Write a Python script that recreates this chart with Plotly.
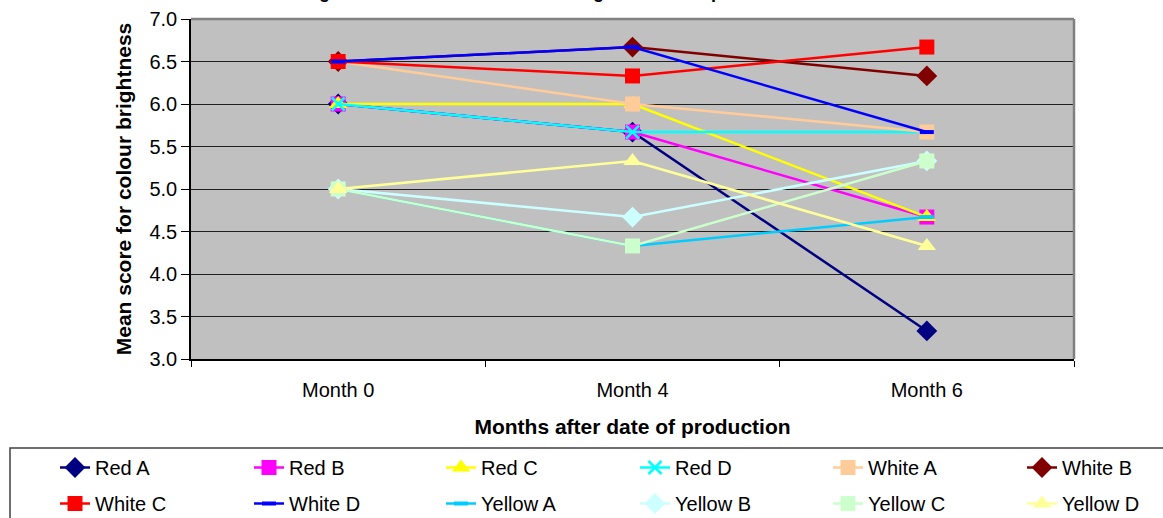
import plotly.graph_objects as go

# Storage months (categories on the x axis)
months = ["Month 0", "Month 4", "Month 6"]

# Mean colour-brightness scores per sample
red_a = [6.0, 5.67, 3.33]
red_b = [6.0, 5.67, 4.67]
red_c = [6.0, 6.0, 4.67]
red_d = [6.0, 5.67, 5.67]
white_a = [6.5, 6.0, 5.67]
white_b = [6.5, 6.67, 6.33]
white_c = [6.5, 6.33, 6.67]
white_d = [6.5, 6.67, 5.67]
yellow_a = [5.0, 4.33, 4.67]
yellow_b = [5.0, 4.67, 5.33]
yellow_c = [5.0, 4.33, 5.33]
yellow_d = [5.0, 5.33, 4.33]

y_ticks = [3.0, 3.5, 4.0, 4.5, 5.0, 5.5, 6.0, 6.5, 7.0]

series = [
    ("Red A", red_a, "#000080", "diamond"),
    ("Red B", red_b, "#FF00FF", "square"),
    ("Red C", red_c, "#FFFF00", "triangle-up"),
    ("Red D", red_d, "#00FFFF", "x-thin"),
    ("White A", white_a, "#FFCC99", "square"),
    ("White B", white_b, "#800000", "diamond"),
    ("White C", white_c, "#FF0000", "square"),
    ("White D", white_d, "#0000FF", "line-ew"),
    ("Yellow A", yellow_a, "#00CCFF", "line-ew"),
    ("Yellow B", yellow_b, "#CCFFFF", "diamond"),
    ("Yellow C", yellow_c, "#CCFFCC", "square"),
    ("Yellow D", yellow_d, "#FFFF99", "triangle-up"),
]

FONT = "Liberation Sans, Arial, sans-serif"
FS = 20
FS_TITLE = 21

# Plot-area geometry in pixels
W, H = 1163, 518
L, R, T, B = 191, 89, 19, 159
PW, PH = W - L - R, H - T - B

# Legend: six columns, two rows; each column is its own vertical legend
col_text_x = [96, 290, 482, 676, 869, 1063]
legend_top_px = 448

fig = go.Figure()
for i, (name, vals, color, sym) in enumerate(series):
    if sym == "x-thin":
        marker = dict(symbol=sym, size=13, color=color, line=dict(color=color, width=2.5))
    elif sym == "line-ew":
        marker = dict(symbol=sym, size=10, color=color, line=dict(color=color, width=4))
    elif sym in ("diamond", "triangle-up"):
        marker = dict(symbol=sym, size=16, color=color, line=dict(width=0))
    else:
        marker = dict(symbol=sym, size=15, color=color, line=dict(width=0))
    col = i % 6
    fig.add_trace(go.Scatter(
        x=months, y=vals, name=name, mode="lines+markers",
        line=dict(color=color, width=2.5), marker=marker,
        legend="legend" if col == 0 else f"legend{col + 1}",
        legendgroup=name,
    ))

legend_cfg = {}
for col, tx in enumerate(col_text_x):
    key = "legend" if col == 0 else f"legend{col + 1}"
    legend_cfg[key] = dict(
        orientation="v",
        x=(tx - 41 - L) / PW, xanchor="left",
        y=(T + PH - legend_top_px) / PH, yanchor="top",
        bgcolor="rgba(0,0,0,0)", borderwidth=0,
        font=dict(size=FS, family=FONT, color="black"),
        tracegroupgap=7, itemsizing="trace",
    )

fig.update_layout(
    width=W, height=H,
    margin=dict(l=L, r=R, t=T, b=B, autoexpand=False),
    paper_bgcolor="white",
    plot_bgcolor="#C0C0C0",
    font=dict(family=FONT, size=FS, color="black"),
    showlegend=True,
    **legend_cfg,
    xaxis=dict(
        type="category", range=[-0.5, 2.5],
        showline=True, linecolor="black", linewidth=1.5,
        ticks="outside", tickson="boundaries", ticklen=6, tickcolor="black",
        ticklabelstandoff=12,
        showgrid=False, zeroline=False,
        tickfont=dict(size=FS, family=FONT),
        title=dict(text="<b>Months after date of production</b>", standoff=20,
                   font=dict(size=FS_TITLE, family=FONT)),
    ),
    yaxis=dict(
        range=[3.0, 7.0], tickvals=y_ticks, tickformat=".1f",
        showline=True, linecolor="black", linewidth=1.5,
        ticks="outside", ticklen=8, tickcolor="black",
        showgrid=True, gridcolor="#202020", gridwidth=1, zeroline=False,
        tickfont=dict(size=FS, family=FONT),
        title=dict(text="<b>Mean score for colour brightness</b>", standoff=12,
                   font=dict(size=FS_TITLE, family=FONT)),
    ),
    annotations=[
        dict(text="<b>Change in mean scores for colour brightness after production</b>",
             xref="paper", yref="paper", x=(272 - L) / PW, y=1,
             xanchor="left", yanchor="bottom", yshift=15, showarrow=False,
             font=dict(size=18, family=FONT, color="black")),
    ],
    shapes=[
        # plot-area frame on top and right
        dict(type="line", xref="paper", yref="paper", x0=0, x1=1, y0=1, y1=1,
             line=dict(color="#808080", width=2.5)),
        dict(type="line", xref="paper", yref="paper", x0=1, x1=1, y0=0, y1=1,
             line=dict(color="#808080", width=2.5)),
        # legend frame
        dict(type="rect", xref="paper", yref="paper",
             x0=(10 - L) / PW, x1=(1175 - L) / PW,
             y0=(T + PH - 530) / PH, y1=(T + PH - 448) / PH,
             line=dict(color="#404040", width=1.5), fillcolor="rgba(0,0,0,0)",
             layer="below"),
    ],
)

fig.write_html("out.html")
